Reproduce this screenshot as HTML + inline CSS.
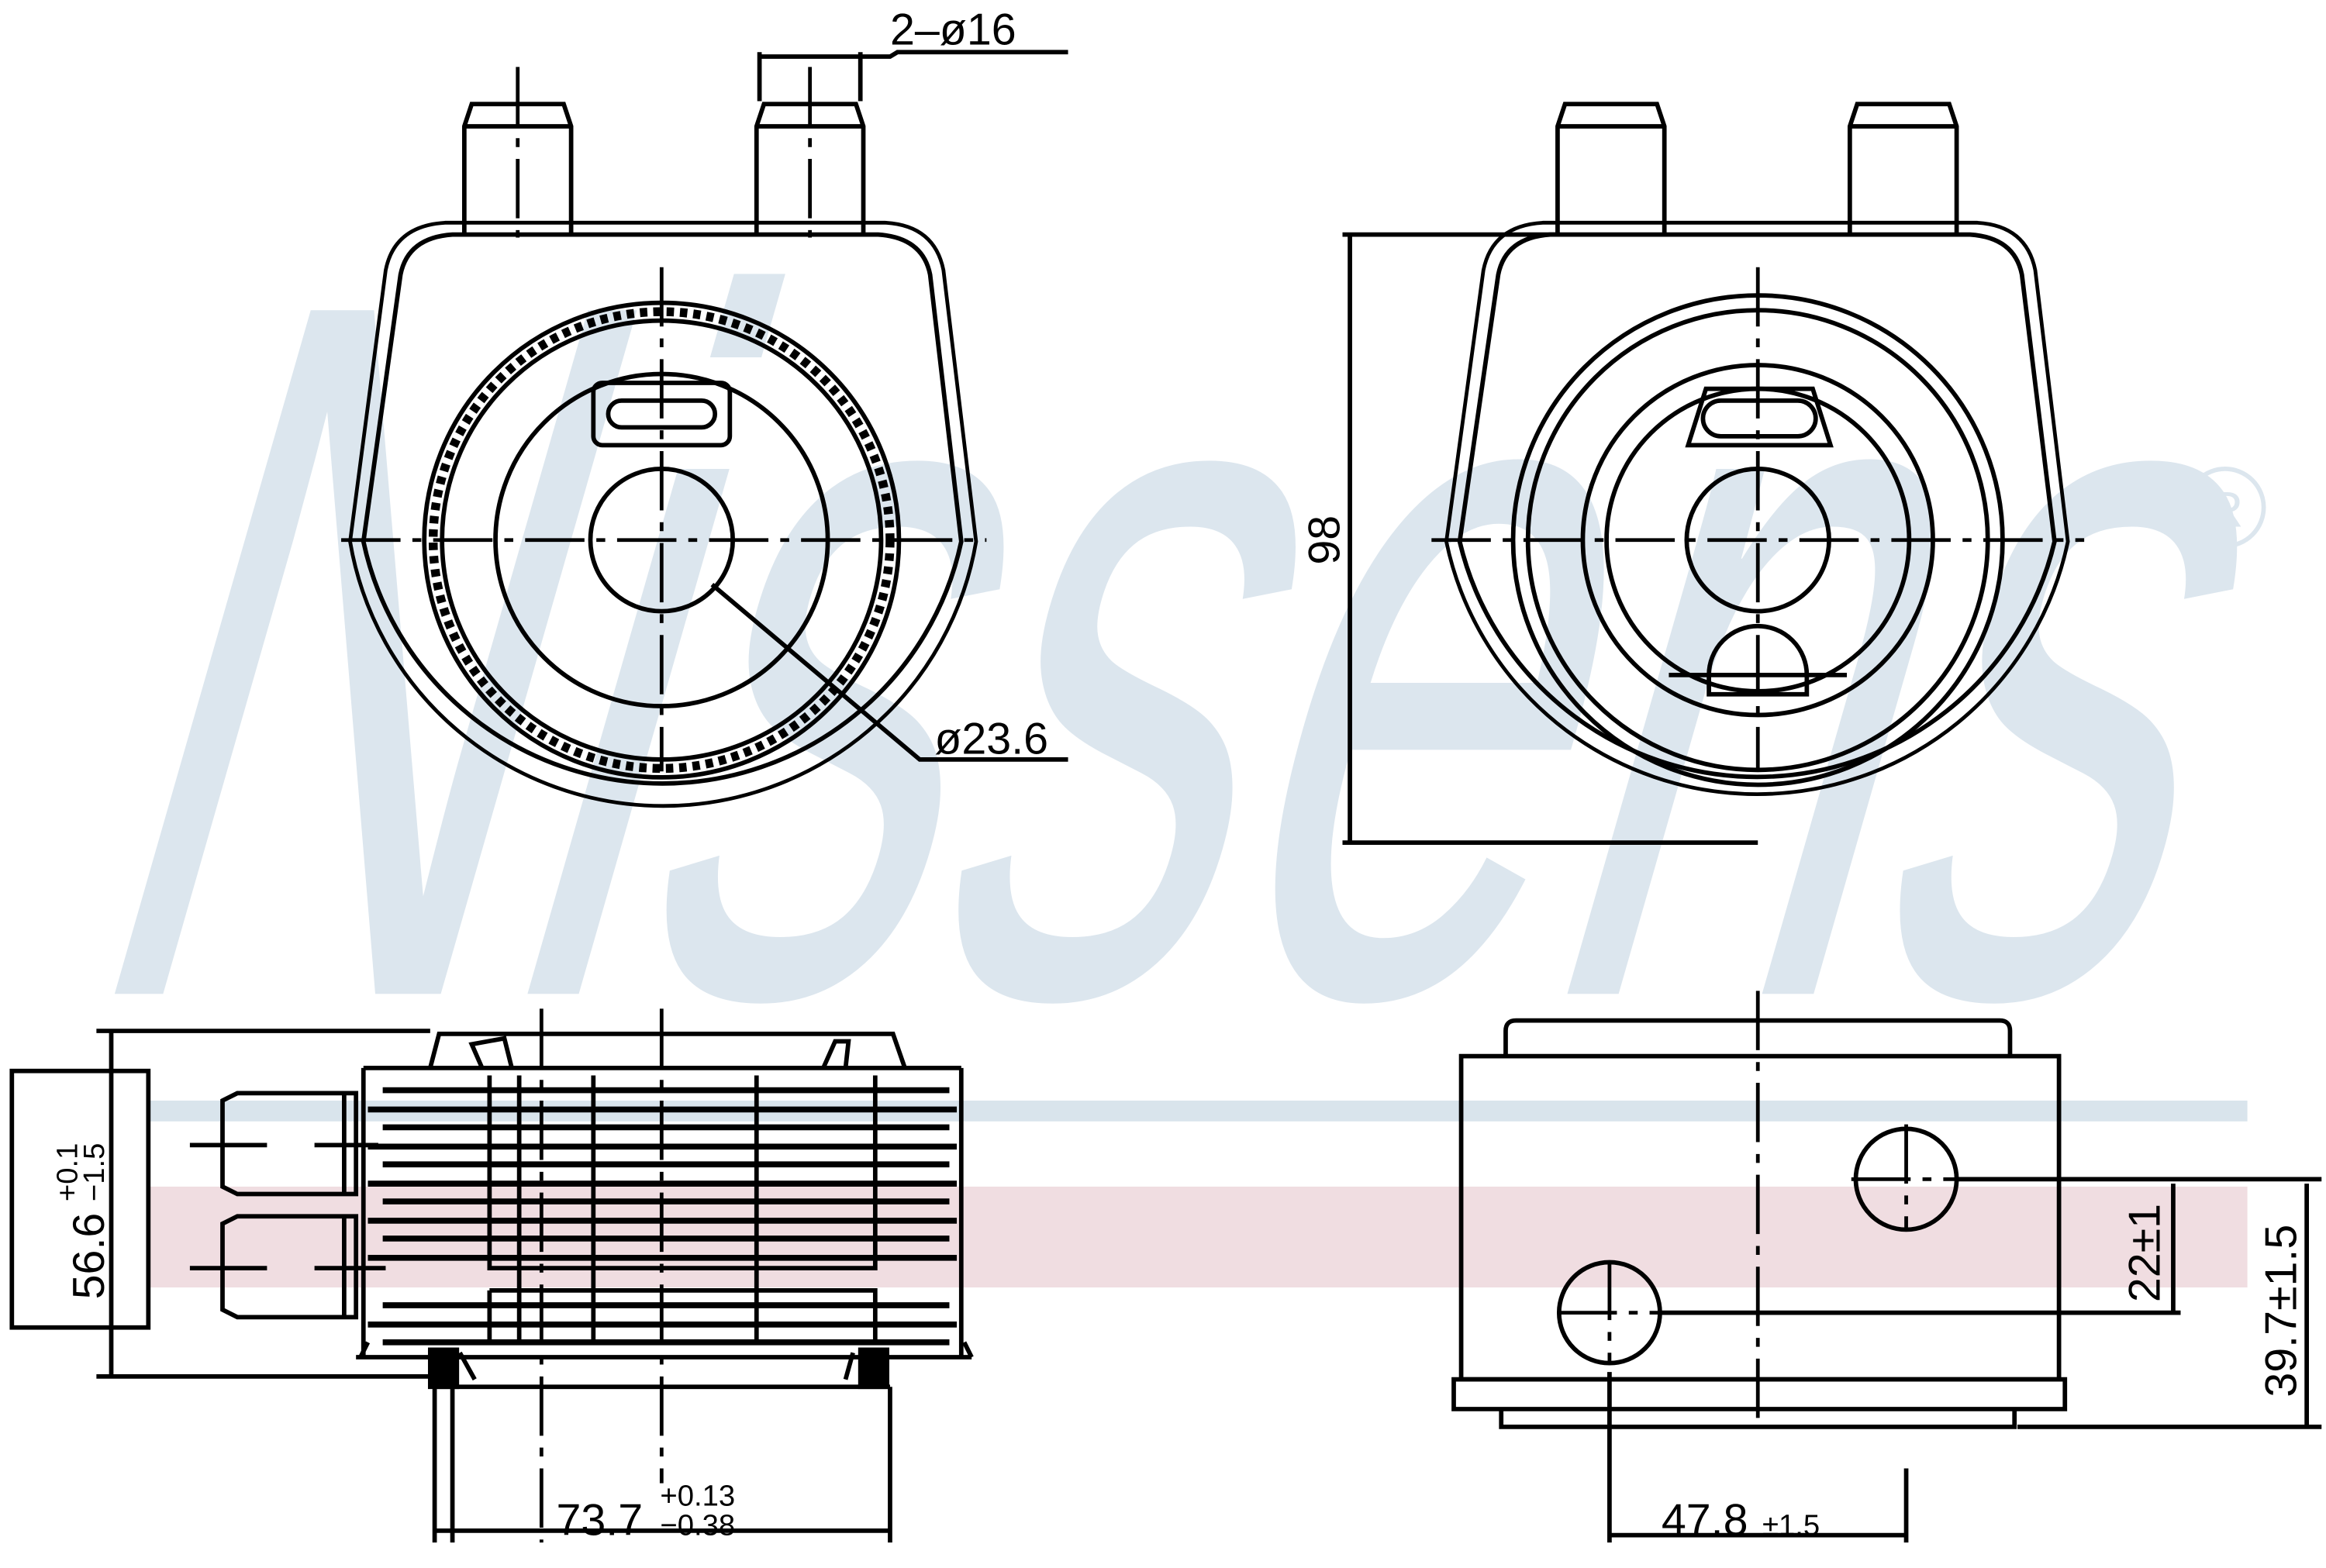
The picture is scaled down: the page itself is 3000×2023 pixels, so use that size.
<!DOCTYPE html>
<html><head><meta charset="utf-8"><style>
html,body{margin:0;padding:0;background:#fff;}
svg{display:block}
text{font-family:"Liberation Sans",sans-serif;}
</style></head><body>
<svg width="3000" height="2023" viewBox="0 0 1568 1057" xmlns="http://www.w3.org/2000/svg">
<!-- watermark -->
<g transform="translate(0 670) skewX(-16)">
<text x="45" y="0" font-size="670" fill="#dce6ee" textLength="1400" lengthAdjust="spacingAndGlyphs" font-family="Liberation Sans">Nissens</text>
</g>
<circle cx="1500" cy="342" r="26" fill="none" stroke="#dce6ee" stroke-width="3"/>
<text x="1500" y="355" font-size="34" fill="#dce6ee" text-anchor="middle">R</text>
<rect x="100" y="742" width="1415" height="14" fill="#d9e4ec"/>
<rect x="100" y="800" width="1415" height="68" fill="#f0dde1"/>

<g fill="none" stroke="#000" stroke-width="3">
<!-- TOP LEFT -->
<path d="M270 185 Q275 160 305 158 H592 Q622 160 627 185 L648 365 A206 206 0 0 1 245 365 Z"/>
<path d="M260 182 Q266 152 300 150 H597 Q630 152 636 182 L658 365 A214 214 0 0 1 236 365 Z" stroke-width="2.5"/>
<path d="M313 158 V85 L318 70 H380 L385 85 V158 M313 85 H385"/>
<path d="M510 158 V85 L515 70 H577 L582 85 V158 M510 85 H582"/>
<circle cx="446" cy="364" r="160"/>
<circle cx="446" cy="364" r="148"/>
<circle cx="446" cy="364" r="154" stroke-dasharray="5 4" stroke-width="6"/>
<circle cx="446" cy="364" r="112"/>
<circle cx="446" cy="364" r="48"/>
<rect x="400" y="258" width="92" height="42" rx="6"/>
<rect x="410" y="270" width="72" height="18" rx="9"/>
<path d="M480 394 L620 512 H720"/>
<!-- TOP RIGHT -->
<path d="M1010 185 Q1015 160 1045 158 H1328 Q1358 160 1363 185 L1385 365 A206 206 0 0 1 984 365 Z"/>
<path d="M1000 182 Q1006 152 1040 150 H1333 Q1366 152 1372 182 L1394 365 A214 214 0 0 1 975 365 Z" stroke-width="2.5"/>
<path d="M1050 158 V85 L1055 70 H1117 L1122 85 V158 M1050 85 H1122"/>
<path d="M1247 158 V85 L1252 70 H1314 L1319 85 V158 M1247 85 H1319"/>
<circle cx="1185" cy="364" r="165"/>
<circle cx="1185" cy="364" r="155"/>
<circle cx="1185" cy="364" r="118"/>
<circle cx="1185" cy="364" r="102"/>
<circle cx="1185" cy="364" r="48"/>
<path d="M1138 300 L1150 262 H1222 L1234 300 Z"/>
<rect x="1148" y="270" width="76" height="24" rx="12"/>
<path d="M1152 468 V455 A33 33 0 0 1 1218 455 V468 Z"/>
<path d="M1125 455 L1245 455"/>
<!-- dim 98 -->
<path d="M905 158 H1050 M905 568 H1185 M910 158 V568"/>
<!-- 2-o16 -->
<path d="M512 35 V68 M580 35 V68 M512 38 H600 L605 35 H720"/>

<!-- BOTTOM LEFT -->
<rect x="8" y="722" width="92" height="173"/>
<path d="M65 695 H290 M65 928 H292 M75 695 V928"/>
<path d="M290 720 L296 697 H602 L610 720 M325 720 L318 704 L340 700 L345 720 M555 720 L563 702 L572 702 L570 720"/>
<path d="M245 720 V915 M648 720 V915 M245 720 H648"/>
<g stroke-width="4">
<path d="M258 735 H640 M248 748 H645 M258 760 H640 M248 773 H645 M258 785 H640 M248 798 H645 M258 810 H640 M248 823 H645 M258 835 H640 M248 848 H645 M258 880 H640 M248 893 H645 M258 905 H640"/>
</g>
<path d="M330 725 V855 H590 V725 M330 870 H590 V905 M330 870 V905 M400 725 V905 M510 725 V905 M350 725 V905"/>
<path d="M240 915 H655 M248 905 L243 915 M650 905 L655 915"/>
<rect x="290" y="910" width="18" height="25" fill="#000"/>
<rect x="580" y="910" width="18" height="25" fill="#000"/>
<path d="M293 935 H600 M293 935 V1040 M600 935 V1040 M305 935 V1040 M310 912 L320 930 M575 912 L570 930"/>
<path d="M150 742 L160 737 H240 V805 H160 L150 800 Z M232 737 V805"/>
<path d="M150 825 L160 820 H240 V888 H160 L150 883 Z M232 820 V888"/>
<path d="M128 772 H180 M212 772 H255 M128 855 H180 M212 855 H260" />
<path d="M293 1032 H600"/>
<!-- BOTTOM RIGHT -->
<path d="M985 712 H1388 V930 H985 Z"/>
<path d="M1015 712 V695 Q1015 688 1022 688 H1348 Q1355 688 1355 695 V712"/>
<path d="M980 930 H1392 V950 H980 Z"/>
<path d="M1012 950 V962 H1358 V950"/>
<circle cx="1285" cy="795" r="34"/>
<circle cx="1085" cy="885" r="34"/>
<path d="M1320 795 H1565 M1120 885 H1470 M1360 962 H1565 M1465 798 V885 M1555 798 V962"/>
<path d="M1085 925 V1040 M1285 990 V1040 M1085 1035 H1285"/>
</g>
<!-- center dashed lines -->
<g stroke="#000" stroke-width="2.5" stroke-dasharray="40 8 6 8" fill="none">
<path d="M446 180 V520 M230 364 H665"/>
<path d="M1185 180 V520 M965 364 H1405"/>
<path d="M349 45 V160 M546 45 V160"/>
<path d="M1085 850 V920 M1050 885 H1120 M1285 758 V830 M1248 795 H1320 M1185 668 V960"/>
<path d="M365 680 V1040 M446 680 V1000"/>
</g>
<g fill="#000" font-size="30">
<text x="600" y="30">2–ø16</text>
<text x="630" y="508">ø23.6</text>
<text transform="translate(903 364) rotate(-90)" text-anchor="middle">98</text>
<text transform="translate(70 876) rotate(-90)">56.6</text>
<text transform="translate(52 810) rotate(-90)" font-size="20">+0.1</text>
<text transform="translate(70 810) rotate(-90)" font-size="20">−1.5</text>
<text x="375" y="1035">73.7</text>
<text x="445" y="1015" font-size="20">+0.13</text>
<text x="445" y="1035" font-size="20">−0.38</text>
<text x="1120" y="1035">47.8</text>
<text x="1188" y="1035" font-size="20">±1.5</text>
<text transform="translate(1456 878) rotate(-90)">22±1</text>
<text transform="translate(1548 942) rotate(-90)">39.7±1.5</text>
</g>
</svg>
</body></html>
